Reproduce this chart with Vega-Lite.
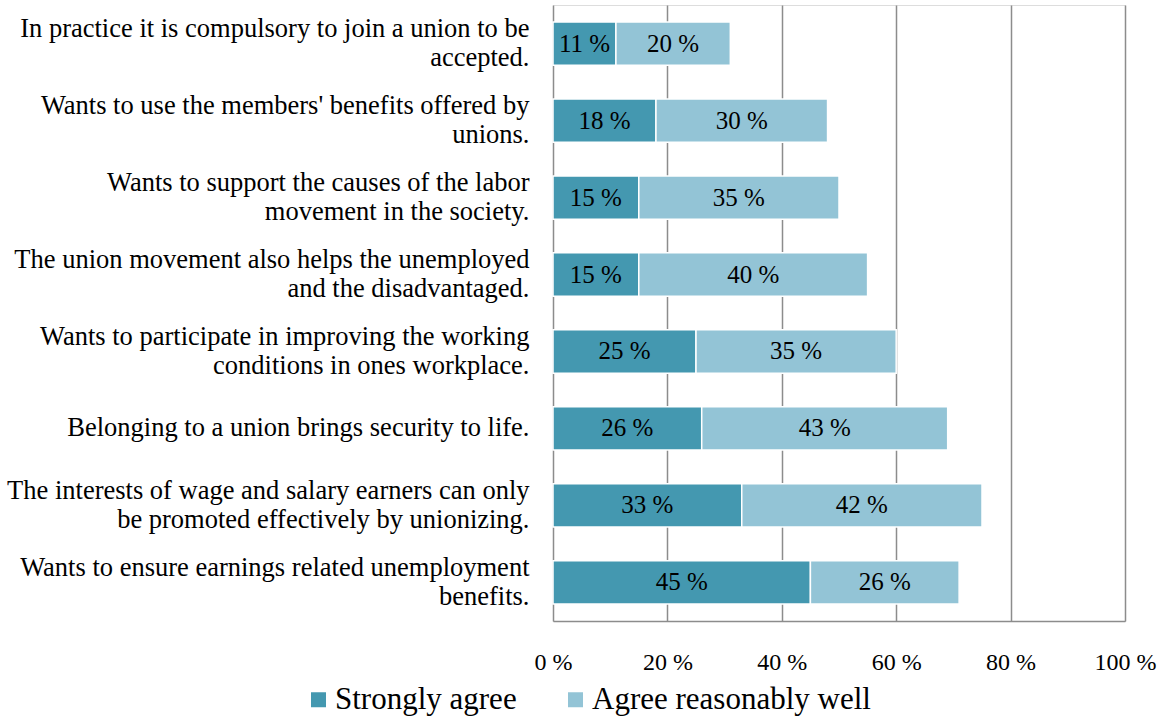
{
  "$schema": "https://vega.github.io/schema/vega-lite/v6.json",
  "width": 572,
  "height": 616,
  "autosize": "none",
  "padding": {"left": 553, "top": 5, "right": 32, "bottom": 99},
  "background": "white",
  "data": {
    "values": [
      {"item": "In practice it is compulsory to join a union to be accepted.", "series": "Strongly agree", "value": 11},
      {"item": "In practice it is compulsory to join a union to be accepted.", "series": "Agree reasonably well", "value": 20},
      {"item": "Wants to use the members' benefits offered by unions.", "series": "Strongly agree", "value": 18},
      {"item": "Wants to use the members' benefits offered by unions.", "series": "Agree reasonably well", "value": 30},
      {"item": "Wants to support the causes of the labor movement in the society.", "series": "Strongly agree", "value": 15},
      {"item": "Wants to support the causes of the labor movement in the society.", "series": "Agree reasonably well", "value": 35},
      {"item": "The union movement also helps the unemployed and the disadvantaged.", "series": "Strongly agree", "value": 15},
      {"item": "The union movement also helps the unemployed and the disadvantaged.", "series": "Agree reasonably well", "value": 40},
      {"item": "Wants to participate in improving the working conditions in ones workplace.", "series": "Strongly agree", "value": 25},
      {"item": "Wants to participate in improving the working conditions in ones workplace.", "series": "Agree reasonably well", "value": 35},
      {"item": "Belonging to a union brings security to life.", "series": "Strongly agree", "value": 26},
      {"item": "Belonging to a union brings security to life.", "series": "Agree reasonably well", "value": 43},
      {"item": "The interests of wage and salary earners can only be promoted effectively by unionizing.", "series": "Strongly agree", "value": 33},
      {"item": "The interests of wage and salary earners can only be promoted effectively by unionizing.", "series": "Agree reasonably well", "value": 42},
      {"item": "Wants to ensure earnings related unemployment benefits.", "series": "Strongly agree", "value": 45},
      {"item": "Wants to ensure earnings related unemployment benefits.", "series": "Agree reasonably well", "value": 26}
    ]
  },
  "transform": [
    {"stack": "value", "groupby": ["item"], "sort": [{"field": "series", "order": "descending"}], "as": ["v0", "v1"]},
    {"calculate": "(datum.v0 + datum.v1) / 2", "as": "mid"},
    {"calculate": "datum.value + ' %'", "as": "label"}
  ],
  "encoding": {
    "y": {
      "field": "item",
      "type": "nominal",
      "sort": null,
      "scale": {"paddingInner": 0.437, "paddingOuter": 0.221},
      "axis": {
        "title": null,
        "domain": false,
        "ticks": false,
        "labelPadding": 24,
        "labelFont": "Liberation Serif",
        "labelFontSize": 26.5,
        "labelColor": "#000000",
        "labelAlign": "right",
        "labelLimit": 700,
        "labelLineHeight": 29,
        "labelOffset": {"condition": {"test": "datum.label == 'Belonging to a union brings security to life.'", "value": 0}, "value": -14.5},
        "labelExpr": "({'In practice it is compulsory to join a union to be accepted.': ['In practice it is compulsory to join a union to be', 'accepted.'], 'Wants to use the members\\' benefits offered by unions.': ['Wants to use the members\\' benefits offered by', 'unions.'], 'Wants to support the causes of the labor movement in the society.': ['Wants to support the causes of the labor', 'movement in the society.'], 'The union movement also helps the unemployed and the disadvantaged.': ['The union movement also helps the unemployed', 'and the disadvantaged.'], 'Wants to participate in improving the working conditions in ones workplace.': ['Wants to participate in improving the working', 'conditions in ones workplace.'], 'The interests of wage and salary earners can only be promoted effectively by unionizing.': ['The interests of wage and salary earners can only', 'be promoted effectively by unionizing.'], 'Wants to ensure earnings related unemployment benefits.': ['Wants to ensure earnings related unemployment', 'benefits.']})[datum.label] || datum.label"
      }
    }
  },
  "layer": [
    {
      "mark": {"type": "bar", "stroke": "white", "strokeWidth": 1.5},
      "encoding": {
        "x": {
          "field": "v0",
          "type": "quantitative",
          "scale": {"domain": [0, 100], "nice": false},
          "axis": {
            "title": null,
            "values": [0, 20, 40, 60, 80, 100],
            "labelExpr": "datum.value + ' %'",
            "grid": true,
            "gridColor": "#8c8c8c",
            "gridWidth": 1.5,
            "domain": true,
            "domainColor": "#8c8c8c",
            "domainWidth": 1.5,
            "ticks": false,
            "labelPadding": 29,
            "labelFont": "Liberation Serif",
            "labelFontSize": 24,
            "labelColor": "#000000",
            "labelFlush": false
          }
        },
        "x2": {"field": "v1"},
        "color": {
          "field": "series",
          "type": "nominal",
          "sort": ["Strongly agree", "Agree reasonably well"],
          "scale": {"domain": ["Strongly agree", "Agree reasonably well"], "range": ["#4498B0", "#93C4D6"]},
          "legend": {
            "title": null,
            "orient": "none",
            "direction": "horizontal",
            "legendX": -250,
            "legendY": 679,
            "symbolType": "square",
            "symbolSize": 225,
            "symbolStrokeWidth": 0,
            "labelFont": "Liberation Serif",
            "labelFontSize": 31,
            "labelColor": "#000000",
            "columnPadding": 43,
            "labelOffset": 1,
            "labelLimit": 500
          }
        }
      }
    },
    {
      "mark": {"type": "text", "font": "Liberation Serif", "fontSize": 25, "color": "#000000", "baseline": "middle"},
      "encoding": {
        "x": {"field": "mid", "type": "quantitative"},
        "text": {"field": "label"}
      }
    }
  ]
}
